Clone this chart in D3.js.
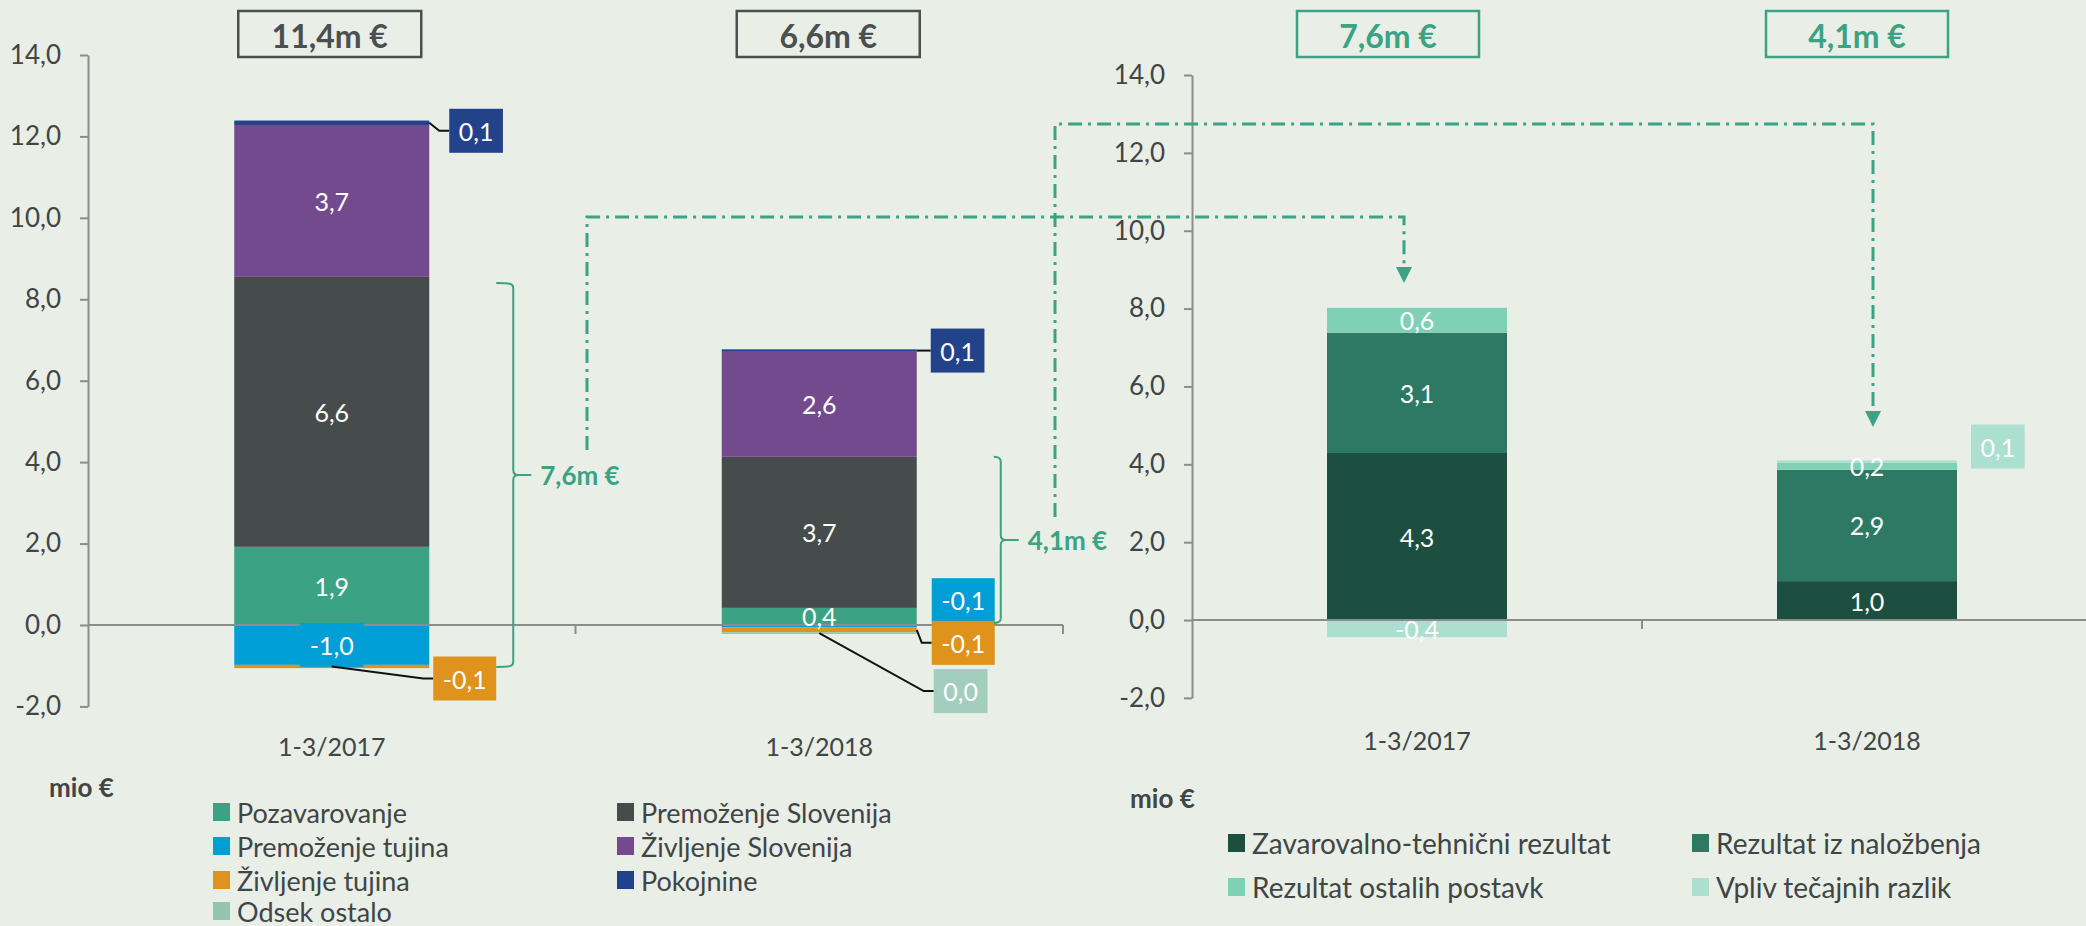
<!DOCTYPE html>
<html>
<head>
<meta charset="utf-8">
<script src="https://cdn.jsdelivr.net/npm/d3@7"></script>
<style>
    body { margin: 0; background: #e9eee7; }
    text { font-family: Lato, "Open Sans", sans-serif; }
</style>
</head>
<body>
<div id="chart"></div>
<script>
// ---- data ----
var periods = ["1-3/2017", "1-3/2018"]

// left chart: result by segment
var segNames = ["Pozavarovanje", "Premoženje Slovenija", "Premoženje tujina", "Življenje Slovenija", "Življenje tujina", "Pokojnine", "Odsek ostalo"]
var segColors = ["#3ba283", "#464b4b", "#009ed6", "#734a8e", "#df921c", "#22428a", "#93c4af"]
var pozavarovanje = [1.92, 0.42]
var premozenjeSlo = [6.63, 3.71]
var premozenjeTuj = [-0.98, -0.06]
var zivljenjeSlo = [3.73, 2.58]
var zivljenjeTuj = [-0.08, -0.12]
var pokojnine = [0.11, 0.06]
var odsekOstalo = [0.0, -0.04]
var segTotals = [11.4, 6.6]
var nonLifeTotals = [7.6, 4.1]
var braceTop = [8.4, 4.13]
var braceBottom = [-1.03, 0.05]

// right chart: non-life result by source
var resNames = ["Zavarovalno-tehnični rezultat", "Rezultat iz naložbenja", "Rezultat ostalih postavk", "Vpliv tečajnih razlik"]
var resColors = ["#1d4f41", "#2d7963", "#80d0b5", "#abe0d0"]
var zavTehnicni = [4.29, 1.0]
var nalozbe = [3.09, 2.86]
var ostalePostavke = [0.64, 0.18]
var tecajneRazlike = [-0.44, 0.06]
var resTotals = [7.6, 4.1]

var yTicks = [-2, 0, 2, 4, 6, 8, 10, 12, 14]

// ---- helpers ----
var loc = d3.formatLocale({ decimal: ",", thousands: ".", grouping: [3], currency: ["", "€"], minus: "-" })
var f1 = loc.format(".1f")
function fmt(v) {
    var s = f1(v)
    return s == "-0,0" ? "0,0" : s
}

var W = 2086, H = 926
var green = "#3ba283", textCol = "#404545", axisCol = "#8c8c8c"

var svg = d3.select("#chart").append("svg")
    .attr("width", W)
    .attr("height", H)

svg.append("rect").attr("width", W).attr("height", H).attr("fill", "#e9eee7")

function buildRows(keys, series) {
    return periods.map(function (p, i) {
        var r = { period: p }
        keys.forEach(function (k, j) { r[k] = series[j][i] })
        return r
    })
}

function drawPanel(cfg) {
    var g = svg.append("g")
    var x = d3.scaleBand().domain(periods).range(cfg.xRange).paddingInner(0.6).paddingOuter(0.3)
    var y = d3.scaleLinear().domain([-2, 14]).range(cfg.yRange)
    var color = d3.scaleOrdinal().domain(cfg.keys).range(cfg.colors)

    var stacked = d3.stack()
        .keys(cfg.keys)
        .offset(d3.stackOffsetDiverging)
        (cfg.rows)

    // Y axis
    var yAxis = g.append("g")
        .attr("transform", "translate(" + cfg.xRange[0] + ",0)")
        .call(d3.axisLeft(y).tickValues(yTicks).tickFormat(fmt).tickSize(8).tickSizeOuter(0).tickPadding(19))
    yAxis.select(".domain").attr("stroke", axisCol).attr("stroke-width", 2)
    yAxis.selectAll(".tick line").attr("stroke", axisCol).attr("stroke-width", 2)
    yAxis.selectAll(".tick text").attr("fill", textCol).style("font-size", "26px")

    // bars
    var layers = g.selectAll(".layer")
        .data(stacked)
        .enter()
        .append("g")
        .attr("class", "layer")
        .attr("fill", function (d) { return color(d.key) })

    layers.selectAll("rect")
        .data(function (d) { return d })
        .enter()
        .append("rect")
        .attr("x", function (d) { return x(d.data.period) })
        .attr("y", function (d) { return y(Math.max(d[0], d[1])) })
        .attr("width", x.bandwidth())
        .attr("height", function (d) { return Math.abs(y(d[0]) - y(d[1])) })

    // X axis (line at zero, ticks between categories)
    var y0 = y(0)
    var step = x.step()
    g.append("line")
        .attr("x1", cfg.xRange[0]).attr("x2", cfg.xRange[1])
        .attr("y1", y0).attr("y2", y0)
        .attr("stroke", axisCol).attr("stroke-width", 2)
    for (var k = 1; k <= periods.length; k++) {
        var tx = cfg.xRange[0] + k * step
        g.append("line")
            .attr("x1", tx).attr("x2", tx)
            .attr("y1", y0).attr("y2", y0 + 9)
            .attr("stroke", axisCol).attr("stroke-width", 2)
    }
    g.selectAll(".cat")
        .data(periods)
        .enter()
        .append("text")
        .attr("x", function (d) { return x(d) + x.bandwidth() / 2 })
        .attr("y", cfg.catY)
        .attr("text-anchor", "middle")
        .attr("dominant-baseline", "central")
        .attr("fill", textCol)
        .style("font-size", "25px")
        .text(function (d) { return d })

    // data labels
    var lg = g.append("g")
    stacked.forEach(function (layer) {
        layer.forEach(function (d, i) {
            var v = d.data[layer.key]
            var cx = x(d.data.period) + x.bandwidth() / 2
            var cy = (y(d[0]) + y(d[1])) / 2
            var co = cfg.callouts.filter(function (c) { return c.key == layer.key && c.i == i })[0]
            var label = fmt(v)
            if (co) {
                var right = x(d.data.period) + x.bandwidth()
                var bx = right + co.dx, by = cy + co.dy
                if (co.leader) {
                    var sx = co.leader == "center" ? cx : right
                    lg.append("path")
                        .attr("d", "M" + sx + "," + cy + "L" + (bx - 10) + "," + by + "H" + bx)
                        .attr("fill", "none")
                        .attr("stroke", "#111")
                        .attr("stroke-width", 2)
                }
                var box = lg.append("rect")
                    .attr("x", bx).attr("y", by - 22)
                    .attr("height", 44)
                    .attr("fill", co.fill || color(layer.key))
                var t = lg.append("text")
                    .attr("x", bx + 9.5)
                    .attr("y", by)
                    .attr("dominant-baseline", "central")
                    .attr("fill", "#fff")
                    .style("font-size", "25px")
                    .text(label)
                box.attr("width", t.node().getComputedTextLength() + 19)
                return
            }
            if (cfg.skip.some(function (s) { return s.key == layer.key && s.i == i })) return
            var boxed = cfg.boxed.some(function (s) { return s.key == layer.key && s.i == i })
            var box2 = boxed ? lg.append("rect").attr("y", cy - 22).attr("height", 44).attr("fill", color(layer.key)) : null
            var t2 = lg.append("text")
                .attr("x", cx)
                .attr("y", cy)
                .attr("text-anchor", "middle")
                .attr("dominant-baseline", "central")
                .attr("fill", "#fff")
                .style("font-size", "25px")
                .text(label)
            if (box2) {
                var w2 = t2.node().getComputedTextLength() + 19
                box2.attr("x", cx - w2 / 2).attr("width", w2)
            }
        })
    })

    // total boxes on top
    cfg.totals.forEach(function (v, i) {
        var c = x(periods[i]) + x.bandwidth() / 2 + cfg.titleShift[i]
        g.append("rect")
            .attr("x", c - cfg.titleW / 2).attr("y", 11)
            .attr("width", cfg.titleW).attr("height", 46)
            .attr("fill", "none")
            .attr("stroke", cfg.titleCol)
            .attr("stroke-width", 2.5)
        g.append("text")
            .attr("x", c).attr("y", 35)
            .attr("text-anchor", "middle")
            .attr("dominant-baseline", "central")
            .attr("fill", cfg.titleCol)
            .style("font-size", "32px")
            .style("font-weight", "bold")
            .text(fmt(v) + "m €")
    })

    // unit label + legend
    g.append("text")
        .attr("x", cfg.unitPos[0]).attr("y", cfg.unitPos[1])
        .attr("dominant-baseline", "central")
        .attr("fill", textCol)
        .style("font-size", "26px")
        .style("font-weight", "bold")
        .text("mio €")

    cfg.keys.forEach(function (key, k) {
        var lx = cfg.legendX[k % 2]
        var ly = cfg.legendY[Math.floor(k / 2)]
        g.append("rect")
            .attr("x", lx).attr("y", ly - 9)
            .attr("width", 17).attr("height", 18)
            .attr("fill", color(key))
        g.append("text")
            .attr("x", lx + 24).attr("y", ly)
            .attr("dominant-baseline", "central")
            .attr("fill", textCol)
            .style("font-size", cfg.legendFont + "px")
            .text(key)
    })

    return { x: x, y: y }
}

var left = drawPanel({
    keys: segNames,
    colors: segColors,
    rows: buildRows(segNames, [pozavarovanje, premozenjeSlo, premozenjeTuj, zivljenjeSlo, zivljenjeTuj, pokojnine, odsekOstalo]),
    xRange: [88, 1063],
    yRange: [706.4, 55],
    catY: 746,
    totals: segTotals,
    titleShift: [-2, 9],
    titleW: 183,
    titleCol: "#4a4f4f",
    callouts: [
        { key: "Pokojnine", i: 0, dx: 20, dy: 8, leader: "edge" },
        { key: "Življenje tujina", i: 0, dx: 4, dy: 12, leader: "center" },
        { key: "Pokojnine", i: 1, dx: 14, dy: 0, leader: "edge" },
        { key: "Premoženje tujina", i: 1, dx: 15, dy: -26 },
        { key: "Življenje tujina", i: 1, dx: 15, dy: 13, leader: "edge" },
        { key: "Odsek ostalo", i: 1, dx: 17, dy: 58, leader: "center", fill: "#a3cdbc" }
    ],
    skip: [{ key: "Odsek ostalo", i: 0 }],
    boxed: [{ key: "Premoženje tujina", i: 0 }],
    unitPos: [49, 787],
    legendX: [213, 617],
    legendY: [812, 846, 880, 911],
    legendFont: 27
})

var right = drawPanel({
    keys: resNames,
    colors: resColors,
    rows: buildRows(resNames, [zavTehnicni, nalozbe, ostalePostavke, tecajneRazlike]),
    xRange: [1192, 2092],
    yRange: [697.9, 75],
    catY: 740,
    totals: resTotals,
    titleShift: [-29, -10],
    titleW: 182,
    titleCol: green,
    callouts: [
        { key: "Vpliv tečajnih razlik", i: 1, dx: 14, dy: -15 }
    ],
    skip: [],
    boxed: [],
    unitPos: [1130, 798],
    legendX: [1228, 1692],
    legendY: [843, 887],
    legendFont: 28
})

// braces with the non-life total next to each left bar
var braceCfg = [{ hook: 17 }, { hook: 7 }]
nonLifeTotals.forEach(function (v, i) {
    var bx = left.x(periods[i]) + left.x.bandwidth() + 84
    var top = left.y(braceTop[i]), bot = left.y(braceBottom[i])
    var mid = (top + bot) / 2
    var hw = braceCfg[i].hook
    var d = "M" + (bx - hw) + "," + top +
        "C" + (bx - 2) + "," + top + " " + bx + "," + (top + 1) + " " + bx + "," + (top + 5) +
        "L" + bx + "," + (mid - 5) +
        "Q" + bx + "," + mid + " " + (bx + 5) + "," + mid +
        "L" + (bx + 18) + "," + mid +
        "M" + (bx + 5) + "," + mid +
        "Q" + bx + "," + mid + " " + bx + "," + (mid + 5) +
        "L" + bx + "," + (bot - 5) +
        "C" + bx + "," + (bot - 1) + " " + (bx - 2) + "," + bot + " " + (bx - hw) + "," + bot
    svg.append("path")
        .attr("d", d)
        .attr("fill", "none")
        .attr("stroke", green)
        .attr("stroke-width", 2)
    svg.append("text")
        .attr("x", bx + 27).attr("y", mid)
        .attr("dominant-baseline", "central")
        .attr("fill", green)
        .style("font-size", "26px")
        .style("font-weight", "bold")
        .text(fmt(v) + "m €")
})

// dash-dot arrows from the brace labels to the right chart
var connectors = [
    { x0: 587, y0: 450, level: 10.35, dx: -13, tip: 8.66 },
    { x0: 1055, y0: 517, level: 12.74, dx: 6, tip: 4.96 }
]
connectors.forEach(function (c, i) {
    var ex = right.x(periods[i]) + right.x.bandwidth() / 2 + c.dx
    var ly = right.y(c.level), ty = right.y(c.tip)
    svg.append("path")
        .attr("d", "M" + c.x0 + "," + c.y0 + "V" + ly + "H" + ex + "V" + (ty - 14))
        .attr("fill", "none")
        .attr("stroke", green)
        .attr("stroke-width", 3)
        .attr("stroke-dasharray", "14,6,3,6")
    svg.append("path")
        .attr("d", "M" + (ex - 8) + "," + (ty - 16) + "L" + (ex + 8) + "," + (ty - 16) + "L" + ex + "," + ty + "Z")
        .attr("fill", green)
})
</script>
</body>
</html>
